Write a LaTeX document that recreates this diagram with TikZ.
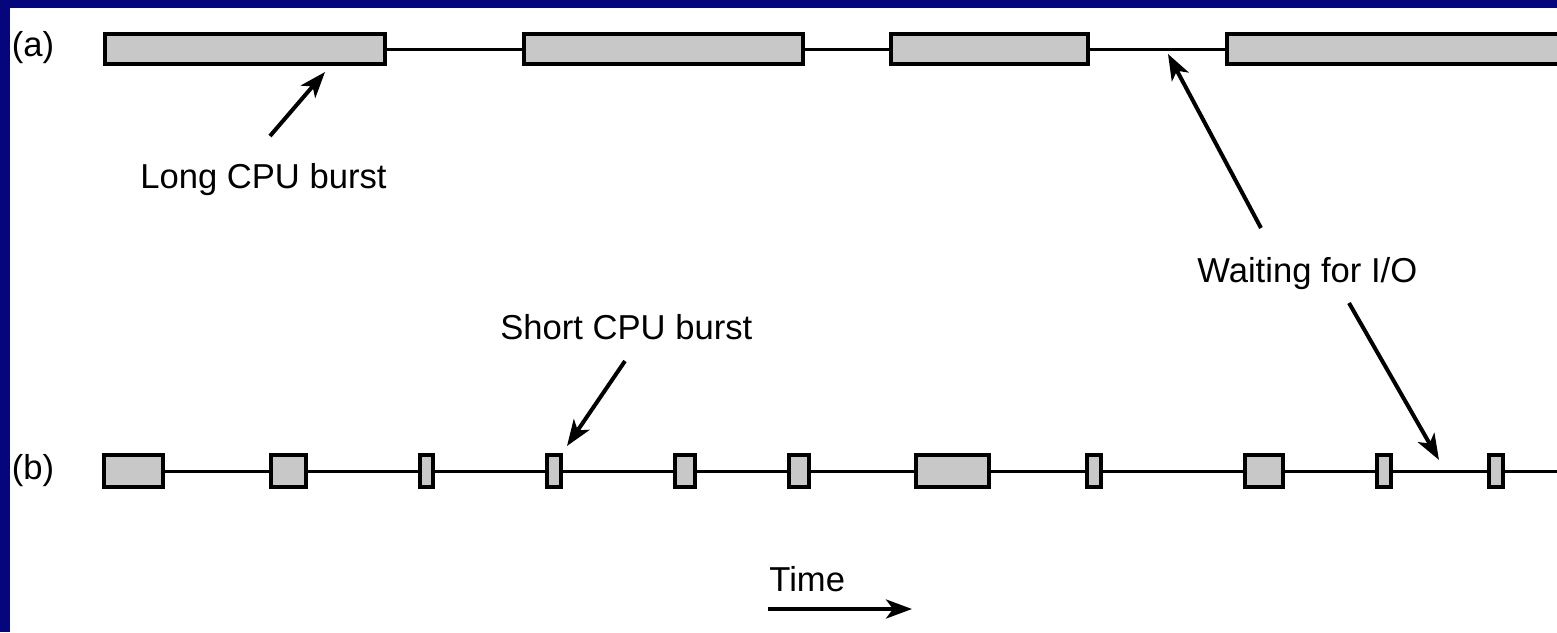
\documentclass[tikz,border=0pt]{standalone}
\usepackage{fontspec}
\setmainfont{Liberation Sans}
\usetikzlibrary{arrows.meta}
\definecolor{framenavy}{RGB}{6,6,124}
\definecolor{burstgray}{RGB}{200,200,200}
\begin{document}
\begin{tikzpicture}[x=0.5pt,y=-0.5pt,
  burst/.style={draw=black, fill=burstgray, line width=2.1pt, inner sep=0pt, minimum height=15pt},
  bburst/.style={burst, minimum height=16pt},
  idle/.style={line width=1.5pt},
  pointer/.style={line width=2pt, -{Stealth[length=13pt,width=9.5pt,inset=3.5pt]}},
  lbl/.style={inner sep=0pt, font=\fontsize{17.3}{20}\selectfont, anchor=base west}]
\useasboundingbox (0,0) rectangle (1557,632);
\clip (0,0) rectangle (1557,632);
% page and frame
\fill[white] (0,0) rectangle (1557,632);
\fill[framenavy] (0,0) rectangle (10,632);
\fill[framenavy] (0,0) rectangle (1557,8);

% (a) CPU-bound process: long bursts
\node[lbl, anchor=center] (la) at (33,48) {(a)};
\node[burst, minimum width=140pt]   (a1) at (245,49) {};
\node[burst, minimum width=139.5pt] (a2) at (663.5,49) {};
\node[burst, minimum width=98.5pt]  (a3) at (989.5,49) {};
\node[burst, minimum width=190pt]   (a4) at (1417,49) {};
\draw[idle] (a1.east) -- (a2.west);
\draw[idle] (a2.east) -- (a3.west);
\draw[idle] (a3.east) -- (a4.west);

% (b) I/O-bound process: short bursts
\node[lbl, anchor=center] (lb) at (33,471) {(b)};
\node[bburst, minimum width=29.5pt] (b1)  at (133.5,471) {};
\node[bburst, minimum width=17.5pt] (b2)  at (288.5,471) {};
\node[bburst, minimum width=6.5pt]  (b3)  at (426.5,471) {};
\node[bburst, minimum width=7pt]    (b4)  at (554,471) {};
\node[bburst, minimum width=10pt]   (b5)  at (685,471) {};
\node[bburst, minimum width=10pt]   (b6)  at (799,471) {};
\node[bburst, minimum width=36.5pt] (b7)  at (952.5,471) {};
\node[bburst, minimum width=7pt]    (b8)  at (1094,471) {};
\node[bburst, minimum width=19pt]   (b9)  at (1264,471) {};
\node[bburst, minimum width=7pt]    (b10) at (1384,471) {};
\node[bburst, minimum width=7pt]    (b11) at (1496,471) {};
\coordinate (bend) at (1560,471);
\foreach \p/\q in {b1/b2,b2/b3,b3/b4,b4/b5,b5/b6,b6/b7,b7/b8,b8/b9,b9/b10,b10/b11}
  \draw[idle] (\p.east) -- (\q.west);
\draw[idle] (b11.east) -- (bend);

% annotations
\node[lbl] (long) at (140,188) {Long CPU burst};
\coordinate (longtail) at (270,136);
\coordinate (longtip)  at (325,72);
\draw[pointer] (longtail) -- (longtip);

\node[lbl] (short) at (500,339) {Short CPU burst};
\coordinate (shorttail) at (625,361);
\coordinate (shorttip)  at (567,446);
\draw[pointer] (shorttail) -- (shorttip);

\node[lbl] (wait) at (1197,282) {Waiting for I/O};
\coordinate (waituptail) at (1261,228);
\coordinate (waituptip)  at (1168,54);
\draw[pointer] (waituptail) -- (waituptip);
\coordinate (waitdntail) at (1349,303);
\coordinate (waitdntip)  at (1439,460);
\draw[pointer] (waitdntail) -- (waitdntip);

% time axis
\node[lbl] (time) at (769,591) {Time};
\coordinate (timestart) at (768,609);
\coordinate (timeend)   at (912,609);
\draw[pointer] (timestart) -- (timeend);
\end{tikzpicture}
\end{document}
